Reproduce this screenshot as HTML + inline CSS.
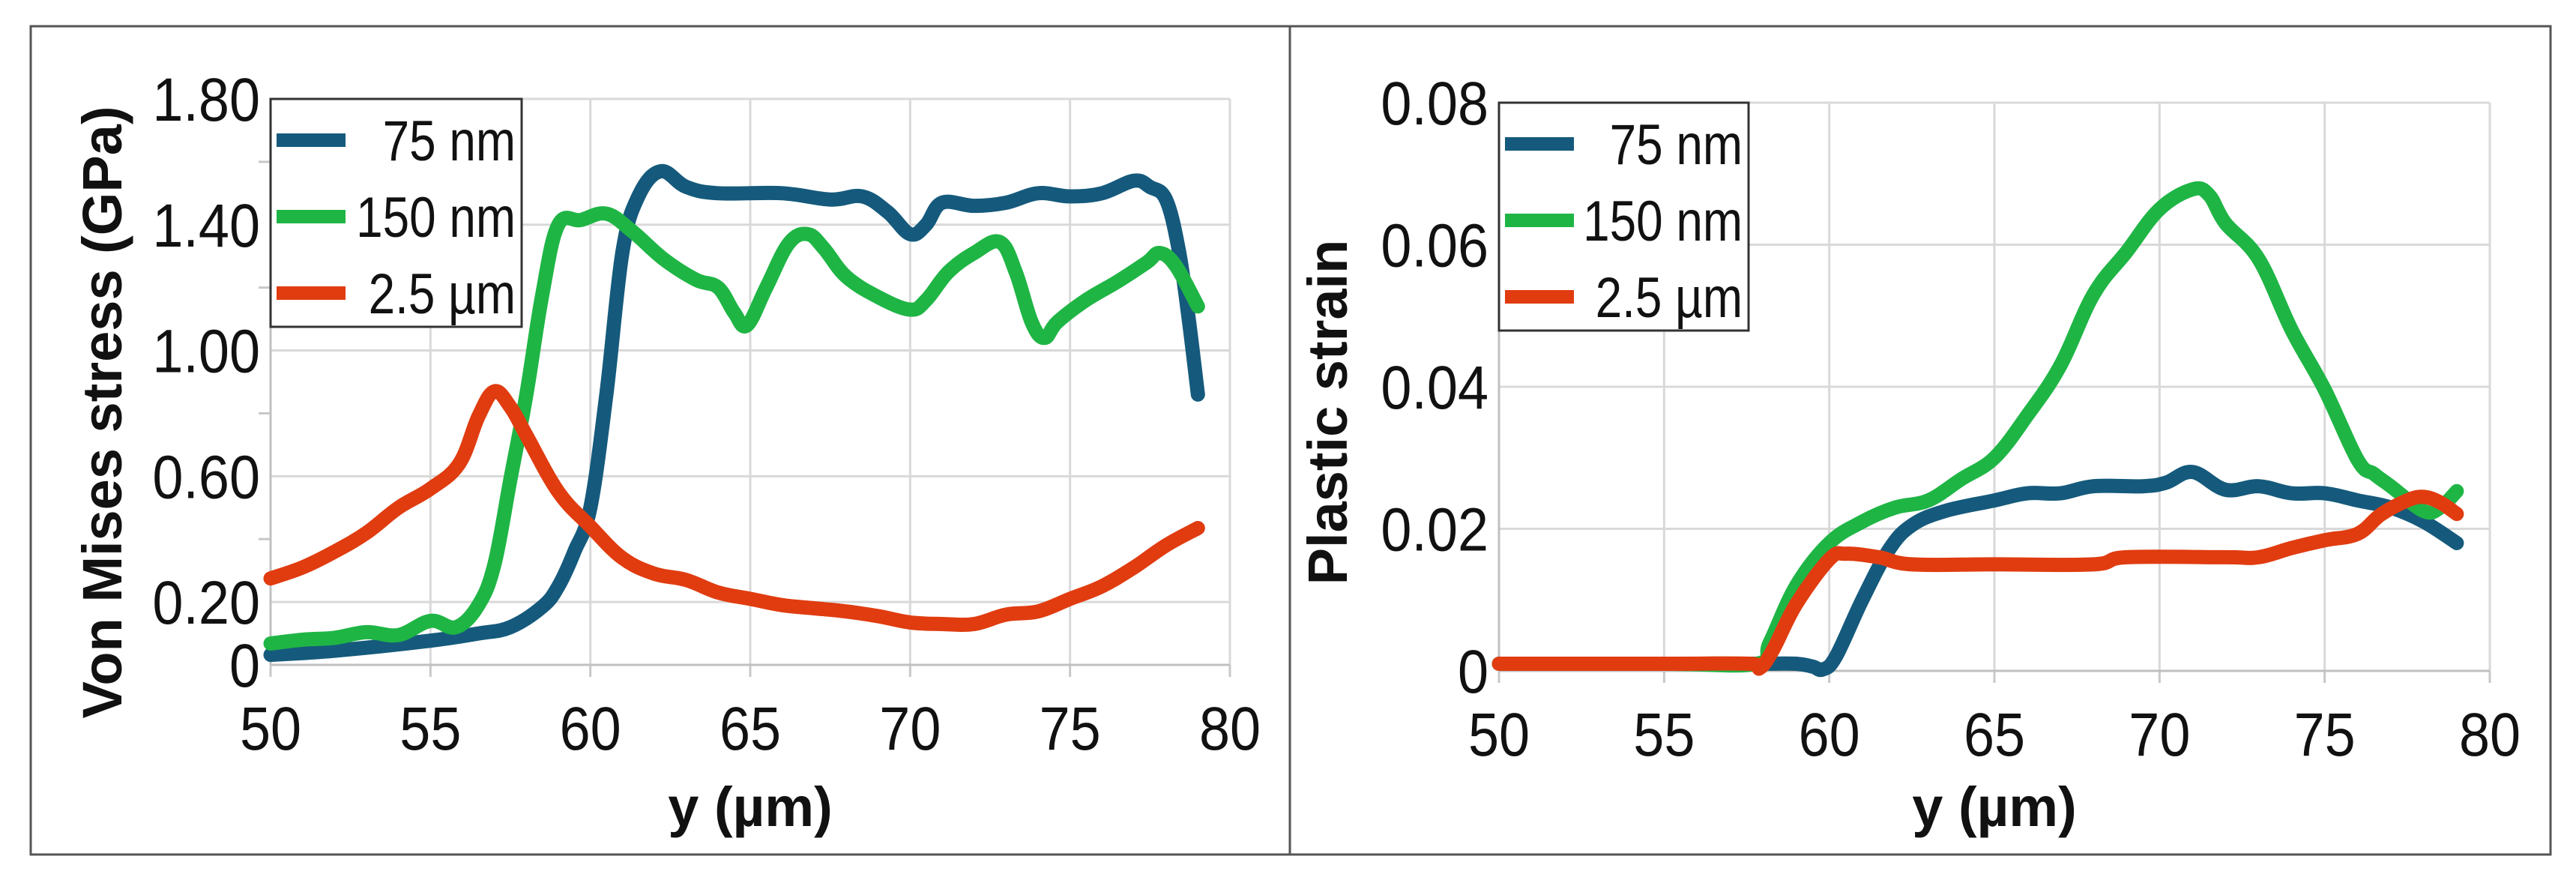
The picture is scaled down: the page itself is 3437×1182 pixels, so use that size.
<!DOCTYPE html>
<html><head><meta charset="utf-8">
<style>
html,body{margin:0;padding:0;background:#fff;}
svg{display:block;}
.tick{font-family:"Liberation Sans",sans-serif;font-size:82px;fill:#111;}
.leg{font-family:"Liberation Sans",sans-serif;font-size:76px;fill:#111;}
.title{font-family:"Liberation Sans",sans-serif;font-weight:bold;font-size:74px;fill:#111;}
</style></head>
<body>
<svg id="fig" width="3437" height="1182" viewBox="0 0 3437 1182" xmlns="http://www.w3.org/2000/svg">
<rect x="0" y="0" width="3437" height="1182" fill="#fff"/>
<rect x="41" y="35" width="3362" height="1105" fill="none" stroke="#555" stroke-width="3"/>
<line x1="1721" y1="35" x2="1721" y2="1140" stroke="#555" stroke-width="3"/>
<g id="left"></g>
<g id="right"></g>
</svg>
<script>
// ---- Left chart data (Von Mises stress, GPa) ----
const stressBlueX = [50,52,55,56.5,57.5,58.5,59,59.5,60,60.5,61,61.5,62.2,63,64,66,67.5,68.5,69.3,70,70.5,71,72,73,74,75,76,77,77.5,78,78.4,78.7,79];
const stressBlueY = [0.032,0.045,0.077,0.10,0.12,0.185,0.25,0.36,0.50,0.86,1.31,1.49,1.57,1.52,1.50,1.50,1.48,1.49,1.44,1.37,1.40,1.47,1.46,1.47,1.50,1.49,1.50,1.54,1.52,1.48,1.32,1.11,0.86];
const stressGreenX = [50,51,52,53,54,55,55.8,56.5,57,57.5,58,58.5,59,59.7,60.5,61.3,62.3,63.3,64,64.5,64.9,65.5,66.2,66.8,67.3,68,69,70,70.5,71.2,72,72.8,73.3,73.8,74.2,74.6,75.5,76.5,77.4,77.8,78.3,79];
const stressGreenY = [0.068,0.08,0.086,0.104,0.095,0.14,0.12,0.19,0.32,0.59,0.86,1.18,1.40,1.415,1.435,1.38,1.29,1.225,1.20,1.12,1.08,1.20,1.34,1.37,1.325,1.235,1.17,1.13,1.16,1.25,1.31,1.345,1.25,1.09,1.04,1.09,1.16,1.22,1.28,1.31,1.27,1.14];
const stressRedX = [50,51,52,53,54,55,55.9,56.5,57,57.5,58,59,60,61,62,63,64,65,66,67,68,69,70,71,72,73,74,75,76,77,78,79];
const stressRedY = [0.275,0.31,0.36,0.42,0.50,0.56,0.64,0.79,0.87,0.82,0.73,0.55,0.44,0.34,0.29,0.27,0.23,0.21,0.19,0.18,0.17,0.155,0.135,0.13,0.13,0.16,0.17,0.21,0.25,0.31,0.38,0.435];
const stressTickVals = [0,0.2,0.6,1.0,1.4,1.8];
const stressTickLabels = ["0","0.20","0.60","1.00","1.40","1.80"];
const stressMinorTicks = [0.4,0.8,1.2,1.6];
// ---- Right chart data (Plastic strain) ----
const strainBlueX = [50,55,58,59,59.5,59.8,60.2,61,61.8,62.5,63.5,65,66,67,68,69.5,70.2,71,72,73,74,75,76,77,78,79];
const strainBlueY = [0.001,0.001,0.001,0.001,0.0006,0.0002,0.002,0.010,0.017,0.0205,0.0225,0.024,0.025,0.025,0.026,0.026,0.0265,0.028,0.0255,0.026,0.025,0.025,0.024,0.023,0.021,0.018];
const strainGreenX = [50,55,57.8,58.2,59,60,61,62,63,64,65,66,67,68,69,70,71,71.5,72,73,74,75,76,76.5,77,78,78.5,79];
const strainGreenY = [0.001,0.001,0.001,0.004,0.012,0.018,0.021,0.023,0.024,0.027,0.030,0.036,0.043,0.053,0.059,0.065,0.0678,0.067,0.063,0.058,0.048,0.0396,0.0297,0.0277,0.026,0.0225,0.023,0.0253];
const strainRedX = [50,55,57.6,57.9,58.3,59,60,60.5,61.5,62.5,65,68,69,72,73,74,75,76,76.7,77.5,78,78.5,79];
const strainRedY = [0.001,0.001,0.001,0.0004,0.003,0.0094,0.0157,0.0165,0.016,0.015,0.015,0.015,0.016,0.016,0.016,0.0173,0.0184,0.0193,0.022,0.024,0.0245,0.0237,0.0221];
const strainTickVals = [0,0.02,0.04,0.06,0.08];
const strainTickLabels = ["0","0.02","0.04","0.06","0.08"];
const xTickVals = [50,55,60,65,70,75,80];
const seriesNames = ["75 nm","150 nm","2.5 µm"];
const colors = ["#155a7c","#1fb545","#e03c10"];

const NS="http://www.w3.org/2000/svg";
function mk(parent,tag,attrs,text){const e=document.createElementNS(NS,tag);for(const k in attrs)e.setAttribute(k,attrs[k]);if(text!==undefined)e.textContent=text;parent.appendChild(e);return e;}
function narrowText(parent,x,y,anchor,cls,str,sx){
  const gg=mk(parent,"g",{transform:"translate("+x+","+y+") scale("+sx+",1)"});
  return mk(gg,"text",{x:0,y:0,"text-anchor":anchor,class:cls},str);
}
function smoothPath(pts){
  let d="M"+pts[0][0].toFixed(1)+","+pts[0][1].toFixed(1);
  for(let i=0;i<pts.length-1;i++){
    const p0=pts[Math.max(0,i-1)],p1=pts[i],p2=pts[i+1],p3=pts[Math.min(pts.length-1,i+2)];
    const t=0.18;
    const c1=[p1[0]+(p2[0]-p0[0])*t,p1[1]+(p2[1]-p0[1])*t];
    const c2=[p2[0]-(p3[0]-p1[0])*t,p2[1]-(p3[1]-p1[1])*t];
    d+=" C"+c1[0].toFixed(1)+","+c1[1].toFixed(1)+" "+c2[0].toFixed(1)+","+c2[1].toFixed(1)+" "+p2[0].toFixed(1)+","+p2[1].toFixed(1);
  }
  return d;
}
function chart(g,cfg){
  const X=v=>cfg.x0+(v-50)/30*(cfg.x1-cfg.x0);
  const Y=v=>cfg.y0-v/cfg.ymax*(cfg.y0-cfg.y1);
  cfg.ticks.forEach((v,i)=>{
    if(v>0){const l=mk(g,"line",{x1:cfg.x0,x2:cfg.x1,y1:Y(v),y2:Y(v),stroke:"#d9d9d9","stroke-width":3});
    
    }
    const t=narrowText(g,cfg.x0-14,Y(v)+29,"end","tick",cfg.labels[i],0.9);
    
    
  });
  cfg.minor.forEach(v=>{
    const l=mk(g,"line",{x1:cfg.x0-16,x2:cfg.x0,y1:Y(v),y2:Y(v),stroke:"#c8c8c8","stroke-width":3});
    
    
  });
  xTickVals.forEach(v=>{
    if(v>50){const l=mk(g,"line",{x1:X(v),x2:X(v),y1:cfg.y1,y2:cfg.y0,stroke:"#d9d9d9","stroke-width":3});
    
    }
    const tk=mk(g,"line",{x1:X(v),x2:X(v),y1:cfg.y0,y2:cfg.y0+16,stroke:"#c8c8c8","stroke-width":3});
    
    
    const t=narrowText(g,X(v),cfg.y0+113,"middle","tick",String(v),0.9);
    
    
  });
  const ax=mk(g,"line",{x1:cfg.x0,x2:cfg.x1,y1:cfg.y0,y2:cfg.y0,stroke:"#c0c0c0","stroke-width":3});
  
  
  const ay=mk(g,"line",{x1:cfg.x0,x2:cfg.x0,y1:cfg.y1,y2:cfg.y0,stroke:"#c0c0c0","stroke-width":3});
  
  
  cfg.series.forEach((s,i)=>{
    const pts=s[0].map((x,j)=>[X(x),Y(s[1][j])]);
    const p=mk(g,"path",{d:smoothPath(pts),fill:"none",stroke:colors[i],"stroke-width":19,"stroke-linejoin":"round","stroke-linecap":"round"});
    
    
  });
  const lg=mk(g,"g",{});
  
  
  const L=cfg.leg;
  mk(lg,"rect",{x:L.x,y:L.y,width:L.w,height:L.h,fill:"#fff",stroke:"#333","stroke-width":3});
  seriesNames.forEach((n,i)=>{
    const cy=L.y+55+i*102;
    const e=mk(lg,"g",{});
    
    
    mk(e,"rect",{x:L.x+8,y:cy-9,width:92,height:18,fill:colors[i]});
    narrowText(e,L.x+L.w-8,cy+27,"end","leg",n,0.84);
  });
  const yt=mk(g,"text",{x:cfg.ytx,y:550,"text-anchor":"middle",class:"title",transform:"rotate(-90 "+cfg.ytx+" 550)"},cfg.ytitle);
  
  
  const xt=mk(g,"text",{x:(cfg.x0+cfg.x1)/2,y:1102,"text-anchor":"middle",class:"title"},"y (µm)");
  
  
}
chart(document.getElementById("left"),{x0:361,x1:1641,y0:887,y1:132,ymax:1.8,ticks:stressTickVals,labels:stressTickLabels,minor:stressMinorTicks,
  series:[[stressBlueX,stressBlueY],[stressGreenX,stressGreenY],[stressRedX,stressRedY]],
  leg:{x:361,y:132,w:335,h:304},ytx:162,ytitle:"Von Mises stress (GPa)"});
chart(document.getElementById("right"),{x0:2000,x1:3322,y0:895,y1:137,ymax:0.08,ticks:strainTickVals,labels:strainTickLabels,minor:[],
  series:[[strainBlueX,strainBlueY],[strainGreenX,strainGreenY],[strainRedX,strainRedY]],
  leg:{x:2000,y:137,w:333,h:304},ytx:1797,ytitle:"Plastic strain"});
</script>
</body></html>
